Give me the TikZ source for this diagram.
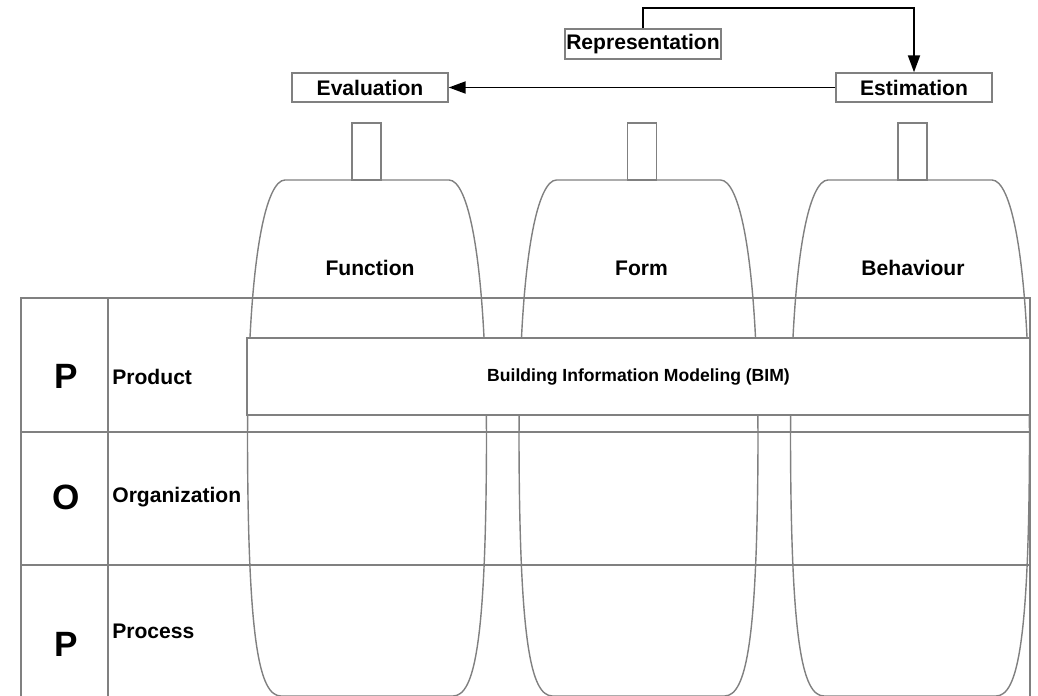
\documentclass[tikz,border=0pt]{standalone}
\usepackage{fontspec}
\setmainfont{Liberation Sans}
\usetikzlibrary{arrows.meta,positioning}
\definecolor{linegray}{HTML}{808080}

\begin{document}
\begin{tikzpicture}[
  x = 0.02cm, y = -0.02cm,
  txt/.style     = {font=\bfseries\fontsize{12}{14}\selectfont, inner sep=0pt},
  bigtxt/.style  = {font=\bfseries\fontsize{20}{22}\selectfont, inner sep=0pt},
  box/.style     = {rectangle, draw=linegray, line width=0.8pt, fill=white, txt, text centered, minimum height=0.58cm},
  stem/.style    = {rectangle, draw=linegray, line width=0.8pt, minimum width=0.58cm, minimum height=1.14cm, inner sep=0pt},
  band/.style    = {rectangle, draw=linegray, line width=0.8pt, fill=white, font=\bfseries\fontsize{10}{12}\selectfont, minimum width=15.66cm, minimum height=1.54cm},
  gridline/.style = {draw=linegray, line width=0.8pt},
  conn/.style    = {draw=black, line width=1.1pt, -{Triangle[length=0.34cm, width=0.24cm]}},
  ]
  \useasboundingbox (0,0) rectangle (1038,696);
  % POP table
  \draw[gridline] (21,696) -- (21,298) -- (1030,298) -- (1030,696);
  \draw[gridline] (108,298) -- (108,696);
  \draw[gridline] (21,432) -- (1030,432);
  \draw[gridline] (21,565) -- (1030,565);
  \node[bigtxt] (P1) at (66,376) {P};
  \node[bigtxt] (O)  at (66,497) {O};
  \node[bigtxt] (P2) at (66,644) {P};
  \node[txt, anchor=west] (product) at (112,377) {Product};
  \node[txt, anchor=west] (organization) at (112,497) {Organization};
  \node[txt, anchor=west] (process) at (112,631) {Process};
  % capsules
  \foreach \c/\s/\n/\t in {367/366.5/fun/Function, 638.5/642/form/Form, 910/912.5/beh/Behaviour} {
    \draw[gridline] ({\c-82},180) -- ({\c+82},180)
      .. controls ({\c+100},180) and ({\c+119},250) .. ({\c+119.5},440)
      .. controls ({\c+119},640) and ({\c+108},696) .. ({\c+86},696)
      -- ({\c-86},696)
      .. controls ({\c-108},696) and ({\c-119},640) .. ({\c-119.5},440)
      .. controls ({\c-119},250) and ({\c-100},180) .. ({\c-82},180) -- cycle;
    \node[stem] (\n-stem) at (\s,151.5) {};
    \node[txt] (\n) at ({\c+3},268) {\t};
  }
  % BIM band
  \node[band] (bim) at (638.5,376.5) {Building Information Modeling (BIM)};
  % top boxes
  \node[box, minimum width=3.12cm] (eval) at (370,87.5) {Evaluation};
  \node[box, minimum width=3.12cm] (est)  at (914,87.5) {Estimation};
  \node[box, minimum width=3.12cm, minimum height=0.6cm] (repr) at (643,44) {Representation};
  % connectors
  \draw[conn] (est) -- (eval);
  \draw[conn] (repr.north) -- ++(0,-20) -| (est.north);
\end{tikzpicture}
\end{document}
